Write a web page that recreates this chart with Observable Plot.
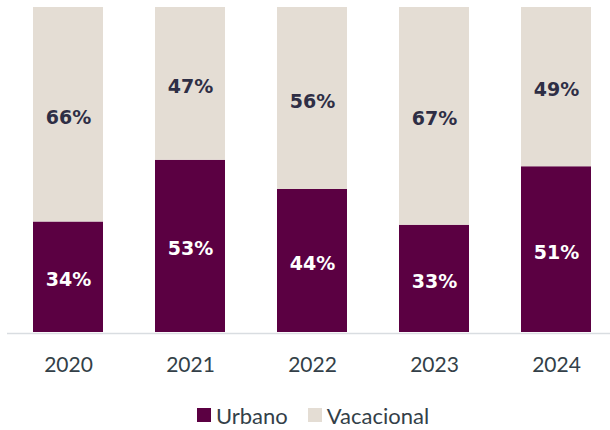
<!DOCTYPE html>
<html><head><meta charset="utf-8">
<script src="https://cdn.jsdelivr.net/npm/d3@7"></script>
<script src="https://cdn.jsdelivr.net/npm/@observablehq/plot@0.6"></script>
<style>
body{margin:0;background:#fff;font-family:Lato,"Noto Sans",sans-serif;}
#legend{display:flex;justify-content:center;align-items:center;height:40px;margin-top:5px;padding-left:16px;font-size:22px;color:#333f48;}
#legend span.sw{display:inline-block;width:14px;height:14px;margin-right:5px;}
#legend .item{display:flex;align-items:center;margin:0 10px;}
</style></head>
<body>
<div id="chart"></div>
<div id="legend"></div>
<script>
const years = ["2020","2021","2022","2023","2024"];
const urbano = [34,53,44,33,51];
const vacacional = [66,47,56,67,49];
const series = ["Urbano","Vacacional"];
const colors = ["#5b0042","#e4ddd4"];
const labelColors = ["#ffffff","#2e2e45"];

const data = [];
years.forEach((y,i)=>{
  data.push({year:y, serie:series[0], value:urbano[i]});
  data.push({year:y, serie:series[1], value:vacacional[i]});
});
const segs = [];
years.forEach((y,i)=>{
  segs.push({year:y, serie:series[0], value:urbano[i], mid:urbano[i]/2});
  segs.push({year:y, serie:series[1], value:vacacional[i], mid:urbano[i]+vacacional[i]/2});
});

const chart = Plot.plot({
  width:610, height:390,
  marginTop:7, marginBottom:58, marginLeft:7, marginRight:0,
  x:{domain:years, range:[7,617], paddingInner:0.426, paddingOuter:0.213, label:null},
  y:{domain:[0,100], axis:null},
  color:{domain:series, range:colors},
  style:{fontFamily:"Lato, 'Noto Sans', sans-serif"},
  marks:[
    Plot.barY(data, Plot.stackY({x:"year", y:"value", fill:"serie", order:series})),
    Plot.ruleY([0], {stroke:"#d9dde1", strokeWidth:1.5, dy:1}),
    Plot.axisX({tickSize:0, tickPadding:25, fontSize:21, color:"#333f48"}),
    Plot.text(segs, {x:"year", y:"mid", dy:3, text:d=>d.value+"%", fill:d=>labelColors[series.indexOf(d.serie)], fontSize:19, fontWeight:"bold", fontFamily:"'DejaVu Sans', sans-serif"})
  ]
});
document.getElementById("chart").appendChild(chart);
const lg = document.getElementById("legend");
series.forEach((s,i)=>{
  const it = document.createElement("div"); it.className="item";
  it.innerHTML = `<span class="sw" style="background:${colors[i]}"></span>${s}`;
  lg.appendChild(it);
});
</script>
</body></html>
